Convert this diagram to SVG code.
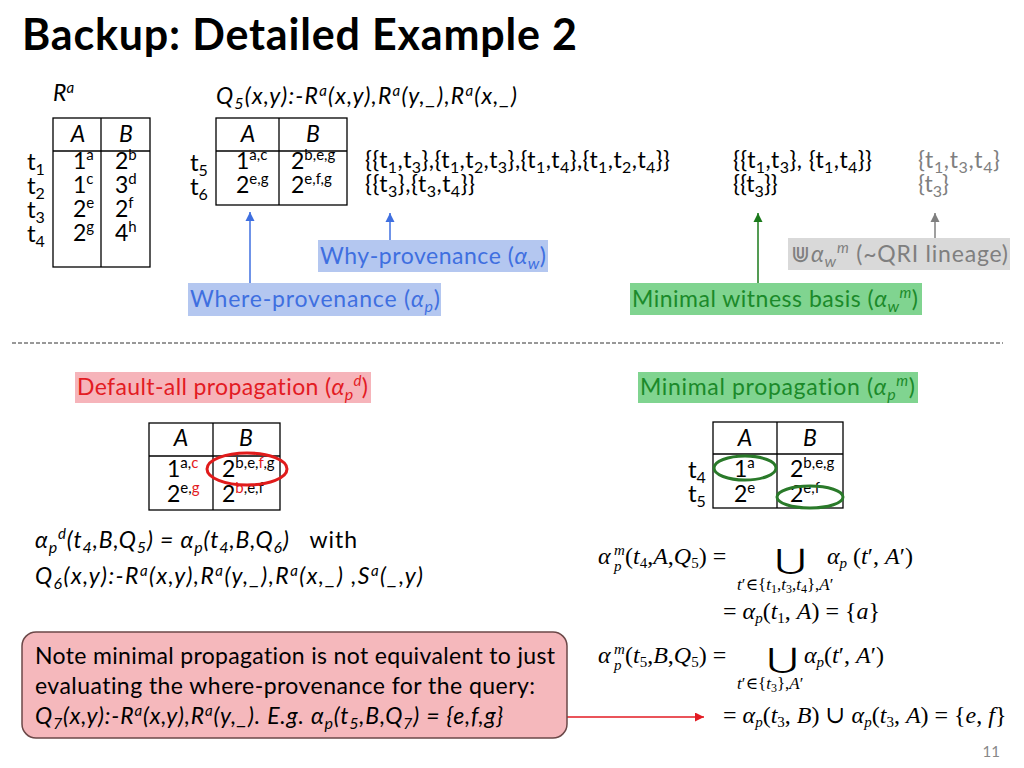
<svg xmlns="http://www.w3.org/2000/svg" width="1024" height="768" viewBox="0 0 1024 768">
<defs>
<style>
text{font-variant-ligatures:none}
.f{font-family:Lato,"Liberation Sans","DejaVu Sans",sans-serif;font-size:23px;fill:#000}
.sp{font-size:15px}
.sb{font-size:16px}
.i{font-style:italic}
.m{font-family:"Liberation Serif","DejaVu Serif",serif;font-size:24px;fill:#000}
.ms{font-size:15px}
.mu{font-family:"Liberation Serif","DejaVu Serif",serif;font-size:17px;fill:#000}
.mus{font-size:12px}
.mi{font-style:italic}
.big{font-family:"DejaVu Serif",serif;font-size:28px;fill:#000}
.tbl{fill:none;stroke:#000;stroke-width:1.3}
.blue{fill:#3f6fe0}
.green{fill:#1b8a2a}
.gray{fill:#7f7f7f}
.red{fill:#e31b23}
</style>
<marker id="ab" viewBox="0 0 10 10" refX="10" refY="5" markerWidth="9" markerHeight="12" markerUnits="userSpaceOnUse" orient="auto"><path d="M0,0 L10,5 L0,10 z" fill="#3f6fe0"/></marker>
<marker id="ag" viewBox="0 0 10 10" refX="10" refY="5" markerWidth="9" markerHeight="12" markerUnits="userSpaceOnUse" orient="auto"><path d="M0,0 L10,5 L0,10 z" fill="#1b7a1b"/></marker>
<marker id="agr" viewBox="0 0 10 10" refX="10" refY="5" markerWidth="9" markerHeight="12" markerUnits="userSpaceOnUse" orient="auto"><path d="M0,0 L10,5 L0,10 z" fill="#7f7f7f"/></marker>
<marker id="ar" viewBox="0 0 10 10" refX="10" refY="5" markerWidth="13" markerHeight="9" markerUnits="userSpaceOnUse" orient="auto-start-reverse"><path d="M0,0 L10,5 L0,10 z" fill="#e31b23"/></marker>
</defs>
<rect width="1024" height="768" fill="#fff"/>

<text x="22" y="50" class="f" font-weight="bold" style="font-size:43px" textLength="555">Backup: Detailed Example 2</text>

<g id="relation-Ra">
<text class="f i" x="53" y="101">R<tspan class="sp" dy="-8">a</tspan></text>
<rect class="tbl" x="53" y="118" width="97" height="149"/>
<line class="tbl" x1="53" y1="151" x2="150" y2="151"/>
<line class="tbl" x1="101" y1="118" x2="101" y2="267"/>
<text class="f i" x="78" y="142" text-anchor="middle">A</text>
<text class="f i" x="126" y="142" text-anchor="middle">B</text>
<text class="f" x="27" y="170" style="font-size:24px">t<tspan class="sb" dy="5">1</tspan></text>
<text class="f" x="27" y="194" style="font-size:24px">t<tspan class="sb" dy="5">2</tspan></text>
<text class="f" x="27" y="218" style="font-size:24px">t<tspan class="sb" dy="5">3</tspan></text>
<text class="f" x="27" y="242" style="font-size:24px">t<tspan class="sb" dy="5">4</tspan></text>
<text class="f" x="73" y="169">1<tspan class="sp" dy="-9">a</tspan></text>
<text class="f" x="73" y="193">1<tspan class="sp" dy="-9">c</tspan></text>
<text class="f" x="73" y="217">2<tspan class="sp" dy="-9">e</tspan></text>
<text class="f" x="73" y="241">2<tspan class="sp" dy="-9">g</tspan></text>
<text class="f" x="115" y="169">2<tspan class="sp" dy="-9">b</tspan></text>
<text class="f" x="115" y="193">3<tspan class="sp" dy="-9">d</tspan></text>
<text class="f" x="115" y="217">2<tspan class="sp" dy="-9">f</tspan></text>
<text class="f" x="115" y="241">4<tspan class="sp" dy="-9">h</tspan></text>
</g>

<g id="query-Q5">
<text class="f i" x="216" y="104" textLength="301">Q<tspan class="sb" dy="5">5</tspan><tspan dy="-5">(x,y):-R</tspan><tspan class="sp" dy="-8">a</tspan><tspan dy="8">(x,y),R</tspan><tspan class="sp" dy="-8">a</tspan><tspan dy="8">(y,_),R</tspan><tspan class="sp" dy="-8">a</tspan><tspan dy="8">(x,_)</tspan></text>
<rect class="tbl" x="216" y="118" width="131" height="87"/>
<line class="tbl" x1="216" y1="151" x2="347" y2="151"/>
<line class="tbl" x1="279" y1="118" x2="279" y2="205"/>
<text class="f i" x="248" y="142" text-anchor="middle">A</text>
<text class="f i" x="313" y="142" text-anchor="middle">B</text>
<text class="f" x="190" y="171" style="font-size:24px">t<tspan class="sb" dy="5">5</tspan></text>
<text class="f" x="190" y="195" style="font-size:24px">t<tspan class="sb" dy="5">6</tspan></text>
<text class="f" x="236" y="169">1<tspan class="sp" dy="-9">a,c</tspan></text>
<text class="f" x="236" y="193">2<tspan class="sp" dy="-9">e,g</tspan></text>
<text class="f" x="291" y="169">2<tspan class="sp" dy="-9">b,e,g</tspan></text>
<text class="f" x="291" y="193">2<tspan class="sp" dy="-9">e,f,g</tspan></text>
</g>

<g id="why-sets">
<text class="f" x="365" y="168" textLength="305">{{t<tspan class="sb" dy="5">1</tspan><tspan dy="-5">,t</tspan><tspan class="sb" dy="5">3</tspan><tspan dy="-5">},{t</tspan><tspan class="sb" dy="5">1</tspan><tspan dy="-5">,t</tspan><tspan class="sb" dy="5">2</tspan><tspan dy="-5">,t</tspan><tspan class="sb" dy="5">3</tspan><tspan dy="-5">},{t</tspan><tspan class="sb" dy="5">1</tspan><tspan dy="-5">,t</tspan><tspan class="sb" dy="5">4</tspan><tspan dy="-5">},{t</tspan><tspan class="sb" dy="5">1</tspan><tspan dy="-5">,t</tspan><tspan class="sb" dy="5">2</tspan><tspan dy="-5">,t</tspan><tspan class="sb" dy="5">4</tspan><tspan dy="-5">}}</tspan></text>
<text class="f" x="365" y="192" textLength="110">{{t<tspan class="sb" dy="5">3</tspan><tspan dy="-5">},{t</tspan><tspan class="sb" dy="5">3</tspan><tspan dy="-5">,t</tspan><tspan class="sb" dy="5">4</tspan><tspan dy="-5">}}</tspan></text>
</g>

<g id="minimal-sets">
<text class="f" x="733" y="168" textLength="139">{{t<tspan class="sb" dy="5">1</tspan><tspan dy="-5">,t</tspan><tspan class="sb" dy="5">3</tspan><tspan dy="-5">}, {t</tspan><tspan class="sb" dy="5">1</tspan><tspan dy="-5">,t</tspan><tspan class="sb" dy="5">4</tspan><tspan dy="-5">}}</tspan></text>
<text class="f" x="733" y="192">{{t<tspan class="sb" dy="5">3</tspan><tspan dy="-5">}}</tspan></text>
</g>

<g id="lineage-sets">
<text class="f gray" x="918" y="168" textLength="82">{t<tspan class="sb" dy="5">1</tspan><tspan dy="-5">,t</tspan><tspan class="sb" dy="5">3</tspan><tspan dy="-5">,t</tspan><tspan class="sb" dy="5">4</tspan><tspan dy="-5">}</tspan></text>
<text class="f gray" x="918" y="192">{t<tspan class="sb" dy="5">3</tspan><tspan dy="-5">}</tspan></text>
</g>

<g id="label-why">
<rect x="318" y="240" width="230" height="32" fill="#b4c7f0"/>
<text class="f blue" x="320" y="264" textLength="226">Why-provenance (<tspan class="i">α</tspan><tspan class="sb i" dy="5">w</tspan><tspan dy="-5">)</tspan></text>
</g>
<g id="label-where">
<rect x="188" y="283" width="253" height="33" fill="#b4c7f0"/>
<text class="f blue" x="190" y="307" textLength="250">Where-provenance (<tspan class="i">α</tspan><tspan class="sb i" dy="5">p</tspan><tspan dy="-5">)</tspan></text>
</g>
<g id="label-witness">
<rect x="630" y="283" width="292" height="32" fill="#80d490"/>
<text class="f green" x="632" y="307" textLength="286">Minimal witness basis (<tspan class="i">α</tspan><tspan class="sb i" dy="5">w</tspan><tspan class="sp i" dy="-14">m</tspan><tspan dy="9">)</tspan></text>
</g>
<g id="label-lineage">
<rect x="788" y="238" width="222" height="32" fill="#d9d9d9"/>
<text class="f gray" x="791" y="262" textLength="217">⋓<tspan class="i">α</tspan><tspan class="sb i" dy="5">w</tspan><tspan class="sp i" dy="-14">m</tspan><tspan dy="9"> (~QRI lineage)</tspan></text>
</g>

<g id="connectors" fill="none">
<line x1="250" y1="283" x2="250" y2="212" stroke="#3f6fe0" stroke-width="1.5" marker-end="url(#ab)"/>
<line x1="390" y1="240" x2="390" y2="213" stroke="#3f6fe0" stroke-width="1.5" marker-end="url(#ab)"/>
<line x1="758" y1="283" x2="758" y2="213" stroke="#1b7a1b" stroke-width="1.5" marker-end="url(#ag)"/>
<line x1="935" y1="238" x2="935" y2="213" stroke="#7f7f7f" stroke-width="1.5" marker-end="url(#agr)"/>
<line x1="527" y1="717" x2="704" y2="717" stroke="#e31b23" stroke-width="1.5" marker-start="url(#ar)" marker-end="url(#ar)"/>
</g>

<line x1="12" y1="343" x2="1003" y2="343" stroke="#333" stroke-width="1" stroke-dasharray="4,2"/>

<g id="label-default-all">
<rect x="75" y="372" width="296" height="31" fill="#f6b4ba"/>
<text class="f red" x="77" y="395" textLength="291">Default-all propagation (<tspan class="i">α</tspan><tspan class="sb i" dy="5">p</tspan><tspan class="sp i" dy="-14">d</tspan><tspan dy="9">)</tspan></text>
</g>

<g id="table-default-all">
<rect class="tbl" x="149" y="423" width="131" height="87"/>
<line class="tbl" x1="149" y1="456" x2="280" y2="456"/>
<line class="tbl" x1="213" y1="423" x2="213" y2="510"/>
<text class="f i" x="181" y="446" text-anchor="middle">A</text>
<text class="f i" x="246" y="446" text-anchor="middle">B</text>
<text class="f" x="167" y="477">1<tspan class="sp" dy="-9">a,</tspan><tspan class="sp red">c</tspan></text>
<text class="f" x="167" y="502">2<tspan class="sp" dy="-9">e,</tspan><tspan class="sp red">g</tspan></text>
<text class="f" x="222" y="477">2<tspan class="sp" dy="-9">b,e,</tspan><tspan class="sp red">f</tspan><tspan class="sp">,g</tspan></text>
<text class="f" x="222" y="502">2<tspan class="sp red" dy="-9">b</tspan><tspan class="sp">,e,f</tspan></text>
<ellipse cx="247" cy="469" rx="40" ry="16" fill="none" stroke="#e01b1b" stroke-width="3"/>
</g>

<g id="formula-default-all">
<text class="f i" x="35" y="548" textLength="322">α<tspan class="sb" dy="5">p</tspan><tspan class="sp" dy="-14">d</tspan><tspan dy="9">(t</tspan><tspan class="sb" dy="5">4</tspan><tspan dy="-5">,B,Q</tspan><tspan class="sb" dy="5">5</tspan><tspan dy="-5">) = α</tspan><tspan class="sb" dy="5">p</tspan><tspan dy="-5">(t</tspan><tspan class="sb" dy="5">4</tspan><tspan dy="-5">,B,Q</tspan><tspan class="sb" dy="5">6</tspan><tspan dy="-5">)</tspan><tspan font-style="normal" xml:space="preserve">   with</tspan></text>
<text class="f i" x="35" y="584" textLength="388">Q<tspan class="sb" dy="5">6</tspan><tspan dy="-5">(x,y):-R</tspan><tspan class="sp" dy="-8">a</tspan><tspan dy="8">(x,y),R</tspan><tspan class="sp" dy="-8">a</tspan><tspan dy="8">(y,_),R</tspan><tspan class="sp" dy="-8">a</tspan><tspan dy="8">(x,_) ,S</tspan><tspan class="sp" dy="-8">a</tspan><tspan dy="8">(_,y)</tspan></text>
</g>

<g id="label-minimal">
<rect x="638" y="372" width="280" height="31" fill="#80d490"/>
<text class="f green" x="640" y="395" textLength="275">Minimal propagation (<tspan class="i">α</tspan><tspan class="sb i" dy="5">p</tspan><tspan class="sp i" dy="-14">m</tspan><tspan dy="9">)</tspan></text>
</g>

<g id="table-minimal">
<rect class="tbl" x="713" y="422" width="130" height="86"/>
<line class="tbl" x1="713" y1="454" x2="843" y2="454"/>
<line class="tbl" x1="777" y1="422" x2="777" y2="508"/>
<text class="f i" x="745" y="446" text-anchor="middle">A</text>
<text class="f i" x="810" y="446" text-anchor="middle">B</text>
<text class="f" x="688" y="478" style="font-size:24px">t<tspan class="sb" dy="5">4</tspan></text>
<text class="f" x="688" y="502" style="font-size:24px">t<tspan class="sb" dy="5">5</tspan></text>
<text class="f" x="734" y="477">1<tspan class="sp" dy="-9">a</tspan></text>
<text class="f" x="734" y="502">2<tspan class="sp" dy="-9">e</tspan></text>
<text class="f" x="790" y="477">2<tspan class="sp" dy="-9">b,e,g</tspan></text>
<text class="f" x="790" y="502">2<tspan class="sp" dy="-9">e,f</tspan></text>
<ellipse cx="745" cy="468" rx="31" ry="12" fill="none" stroke="#2a7a2a" stroke-width="3"/>
<ellipse cx="810" cy="497" rx="33" ry="11" fill="none" stroke="#2a7a2a" stroke-width="3"/>
</g>

<g id="formula-t4">
<text class="m mi" x="598" y="564">α</text>
<text class="m ms mi" x="614" y="555">m</text>
<text class="m ms mi" x="614" y="571">p</text>
<text class="m" x="625" y="564">(<tspan class="mi">t</tspan><tspan class="ms" dy="4">4</tspan><tspan dy="-4">,</tspan><tspan class="mi">A</tspan>,<tspan class="mi">Q</tspan><tspan class="ms" dy="4">5</tspan><tspan dy="-4">) =</tspan></text>
<text class="big" transform="translate(775,569) scale(1.35,1)">⋃</text>
<text class="m" x="827" y="564"><tspan class="mi">α</tspan><tspan class="ms mi" dy="4">p</tspan><tspan dy="-4"> (</tspan><tspan class="mi">t</tspan>′, <tspan class="mi">A</tspan>′)</text>
<text class="mu" x="737" y="590"><tspan class="mi">t</tspan>′∈{<tspan class="mi">t</tspan><tspan class="mus" dy="3">1</tspan><tspan dy="-3">,</tspan><tspan class="mi">t</tspan><tspan class="mus" dy="3">3</tspan><tspan dy="-3">,</tspan><tspan class="mi">t</tspan><tspan class="mus" dy="3">4</tspan><tspan dy="-3">},</tspan><tspan class="mi">A</tspan>′</text>
<text class="m" x="723" y="619">= <tspan class="mi">α</tspan><tspan class="ms mi" dy="4">p</tspan><tspan dy="-4">(</tspan><tspan class="mi">t</tspan><tspan class="ms" dy="4">1</tspan><tspan dy="-4">, </tspan><tspan class="mi">A</tspan>) = {<tspan class="mi">a</tspan>}</text>
</g>

<g id="formula-t5">
<text class="m mi" x="598" y="663">α</text>
<text class="m ms mi" x="614" y="654">m</text>
<text class="m ms mi" x="614" y="670">p</text>
<text class="m" x="625" y="663">(<tspan class="mi">t</tspan><tspan class="ms" dy="4">5</tspan><tspan dy="-4">,</tspan><tspan class="mi">B</tspan>,<tspan class="mi">Q</tspan><tspan class="ms" dy="4">5</tspan><tspan dy="-4">) =</tspan></text>
<text class="big" transform="translate(767,668) scale(1.35,1)">⋃</text>
<text class="m" x="804" y="663"><tspan class="mi">α</tspan><tspan class="ms mi" dy="4">p</tspan><tspan dy="-4">(</tspan><tspan class="mi">t</tspan>′, <tspan class="mi">A</tspan>′)</text>
<text class="mu" x="737" y="689"><tspan class="mi">t</tspan>′∈{<tspan class="mi">t</tspan><tspan class="mus" dy="3">3</tspan><tspan dy="-3">},</tspan><tspan class="mi">A</tspan>′</text>
<text class="m" x="723" y="723">= <tspan class="mi">α</tspan><tspan class="ms mi" dy="4">p</tspan><tspan dy="-4">(</tspan><tspan class="mi">t</tspan><tspan class="ms" dy="4">3</tspan><tspan dy="-4">, </tspan><tspan class="mi">B</tspan>) ∪ <tspan class="mi">α</tspan><tspan class="ms mi" dy="4">p</tspan><tspan dy="-4">(</tspan><tspan class="mi">t</tspan><tspan class="ms" dy="4">3</tspan><tspan dy="-4">, </tspan><tspan class="mi">A</tspan>) = {<tspan class="mi">e</tspan>, <tspan class="mi">f</tspan>}</text>
</g>

<g id="note">
<rect x="22" y="632" width="545" height="106" rx="14" fill="#f5b8bc" stroke="#6b4848" stroke-width="1.5"/>
<text class="f" x="35" y="664" textLength="520">Note minimal propagation is not equivalent to just</text>
<text class="f" x="35" y="694" textLength="500">evaluating the where-provenance for the query:</text>
<text class="f i" x="35" y="724" textLength="468">Q<tspan class="sb" dy="5">7</tspan><tspan dy="-5">(x,y):-R</tspan><tspan class="sp" dy="-8">a</tspan><tspan dy="8">(x,y),R</tspan><tspan class="sp" dy="-8">a</tspan><tspan dy="8">(y,_). E.g. α</tspan><tspan class="sb" dy="5">p</tspan><tspan dy="-5">(t</tspan><tspan class="sb" dy="5">5</tspan><tspan dy="-5">,B,Q</tspan><tspan class="sb" dy="5">7</tspan><tspan dy="-5">) = {e,f,g}</tspan></text>
</g>

<text class="f" x="1000" y="757" text-anchor="end" style="font-size:15px;fill:#888">11</text>
</svg>
